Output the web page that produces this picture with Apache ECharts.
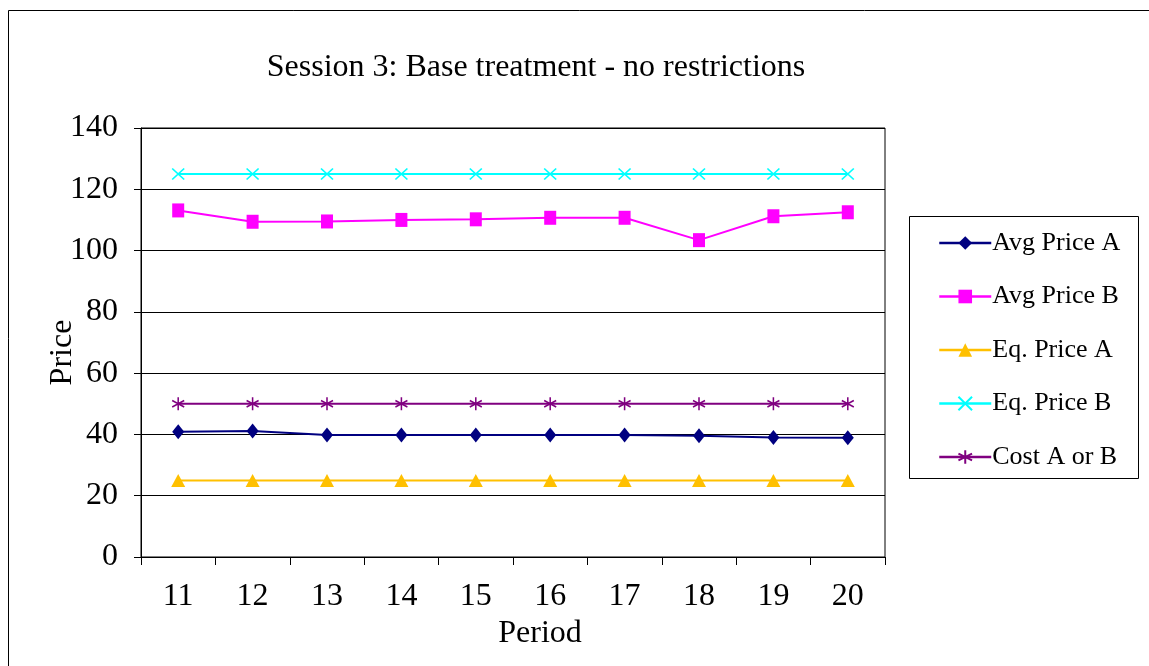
<!DOCTYPE html>
<html><head><meta charset="utf-8">
<script src="https://cdn.jsdelivr.net/npm/echarts@6/dist/echarts.min.js"></script>
<style>html,body{margin:0;padding:0;background:#fff}#c{width:1149px;height:666px}</style>
</head><body><div id="c"></div>
<script>
const periods = ['11','12','13','14','15','16','17','18','19','20'];
const avgPriceA = [40.9, 41.1, 39.8, 39.8, 39.8, 39.8, 39.8, 39.6, 39.0, 38.9];
const avgPriceB = [113.1, 109.4, 109.5, 110.0, 110.2, 110.7, 110.7, 103.4, 111.2, 112.5];
const eqPriceA = [25, 25, 25, 25, 25, 25, 25, 25, 25, 25];
const eqPriceB = [125, 125, 125, 125, 125, 125, 125, 125, 125, 125];
const costAB = [50, 50, 50, 50, 50, 50, 50, 50, 50, 50];

const F = '"Liberation Serif", "Times New Roman", serif';
const chart = echarts.init(document.getElementById('c'));
const crossPath = 'path://M-5,-5L5,5M-5,5L5,-5';
const starPath = 'path://M0,-6L0,6M-5.2,-3L5.2,3M-5.2,3L5.2,-3';
function line(name, data, color, symbol, size, stroke) {
  return {
    name, type: 'line', data, symbol, symbolSize: size,
    lineStyle: {color, width: 2},
    itemStyle: stroke ? {color: 'rgba(0,0,0,0)', borderColor: color, borderWidth: 1.6} : {color, borderWidth: 0},
    emphasis: {disabled: true}, animation: false
  };
}
chart.setOption({
  animation: false,
  title: {text: 'Session 3: Base treatment - no restrictions', left: 531, top: 47, textAlign: 'center',
    textStyle: {fontFamily: F, fontSize: 32, fontWeight: 'normal', color: '#000'}},
  graphic: [
    {type: 'rect', shape: {x: 8.5, y: 10.5, width: 1200, height: 700}, style: {fill: 'none', stroke: '#000', lineWidth: 1}, silent: true},
    {type: 'rect', shape: {x: 909.5, y: 216.5, width: 229, height: 262}, style: {fill: '#fff', stroke: '#000', lineWidth: 1}, silent: true, z: 0}
  ],
  legend: {
    orient: 'vertical', left: 933, top: 225, itemWidth: 52, itemHeight: 17, itemGap: 27.5,
    lineStyle: {width: 2.5},
    textStyle: {fontFamily: F, fontSize: 26, color: '#000', padding: [0, 0, 0, -4]},
    data: ['Avg Price A', 'Avg Price B', 'Eq. Price A', 'Eq. Price B', 'Cost A or B'],
    z: 5
  },
  grid: {left: 141, right: 264, top: 128, bottom: 109, show: true, borderColor: '#000', borderWidth: 1},
  xAxis: {
    type: 'category', data: periods, boundaryGap: true,
    name: 'Period', nameLocation: 'middle', nameGap: 61, nameMoveOverlap: false,
    nameTextStyle: {fontFamily: F, fontSize: 32, color: '#000', padding: [0, 0, 0, 54]},
    axisLine: {lineStyle: {color: '#000', width: 1}},
    axisTick: {show: true, length: 8, lineStyle: {color: '#000'}, alignWithLabel: false},
    axisLabel: {fontFamily: F, fontSize: 32, color: '#000', margin: 24},
    splitLine: {show: false}
  },
  yAxis: {
    type: 'value', min: 0, max: 140, interval: 20,
    name: 'Price', nameLocation: 'middle', nameGap: 62, nameMoveOverlap: false,
    nameTextStyle: {fontFamily: F, fontSize: 32, color: '#000', padding: [0, 20, 0, 0]},
    axisLine: {show: true, lineStyle: {color: '#000', width: 1}},
    axisTick: {show: true, length: 7, lineStyle: {color: '#000'}},
    axisLabel: {fontFamily: F, fontSize: 32, color: '#000', margin: 23},
    splitLine: {show: true, lineStyle: {color: '#000', width: 1}}
  },
  series: [
    line('Avg Price A', avgPriceA, '#000080', 'diamond', [12, 15], false),
    line('Avg Price B', avgPriceB, '#FF00FF', 'rect', [12, 14], false),
    line('Eq. Price A', eqPriceA, '#FFC000', 'triangle', [14, 13], false),
    line('Eq. Price B', eqPriceB, '#00FFFF', crossPath, [12, 11], true),
    line('Cost A or B', costAB, '#800080', starPath, [12, 13], true)
  ]
});
</script></body></html>
